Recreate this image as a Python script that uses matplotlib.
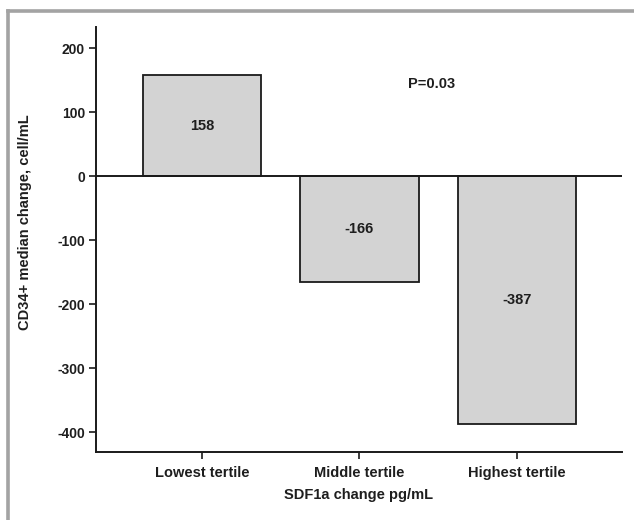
import matplotlib.pyplot as plt
from matplotlib.lines import Line2D

# data
tertiles = ['Lowest tertile', 'Middle tertile', 'Highest tertile']
cd34_change = [158, -166, -387]
bar_labels = ['158', '-166', '-387']
y_ticks = [200, 100, 0, -100, -200, -300, -400]
p_text = 'P=0.03'

plt.rcParams['font.family'] = ['Liberation Sans', 'DejaVu Sans']
plt.rcParams['font.weight'] = 'bold'
plt.rcParams['axes.unicode_minus'] = False
text_col = '#1e1e1e'

fig = plt.figure(figsize=(6.34, 5.2), dpi=100)
ax = fig.add_axes([96 / 634, 1 - 452 / 520, 526 / 634, 425 / 520])

x = range(len(tertiles))
ax.bar(x, cd34_change, width=0.755, color='#d3d3d3', edgecolor='#1a1a1a',
       linewidth=1.3, zorder=2)
ax.axhline(0, color='#1a1a1a', lw=1.4, zorder=3)

# value labels sit in the middle of each bar
for i, (v, lab) in enumerate(zip(cd34_change, bar_labels)):
    ax.text(i, v / 2, lab, ha='center', va='center',
            fontsize=10.5, fontweight='bold', color=text_col)

ax.text(1.31, 144, p_text, ha='left', va='center', fontsize=10.5,
        fontweight='bold', color=text_col)

ax.set_xlim(-0.673, 2.667)
ax.set_ylim(-431, 233)
ax.set_yticks(y_ticks)
ax.set_xticks(list(x))
ax.set_xticklabels(tertiles)

for s in ['top', 'right']:
    ax.spines[s].set_visible(False)
for s in ['left', 'bottom']:
    ax.spines[s].set_linewidth(1.4)
    ax.spines[s].set_color('#1a1a1a')

ax.tick_params(axis='y', length=5, width=1.2, pad=3, labelsize=10,
               colors='#1a1a1a', labelcolor=text_col)
ax.tick_params(axis='x', length=5, width=1.2, pad=5, labelsize=10.5,
               colors='#1a1a1a', labelcolor=text_col)
for t in ax.get_yticklabels() + ax.get_xticklabels():
    t.set_fontweight('bold')

ax.set_xlabel('SDF1a change pg/mL', fontsize=10.5, fontweight='bold',
              color=text_col, labelpad=6)
ax.set_ylabel('CD34+ median change, cell/mL', fontsize=10.5,
              fontweight='bold', color=text_col)
ax.yaxis.set_label_coords(-0.122, 0.541)

# grey frame along top and left edges
frame_col = '#a3a3a3'
fig.add_artist(Line2D([7.5 / 634, 1.0], [1 - 11 / 520, 1 - 11 / 520],
                      transform=fig.transFigure, color=frame_col, lw=2.6))
fig.add_artist(Line2D([7.5 / 634, 7.5 / 634], [0.0, 1 - 11 / 520],
                      transform=fig.transFigure, color=frame_col, lw=2.6))

fig.savefig('out.png', dpi=100)
